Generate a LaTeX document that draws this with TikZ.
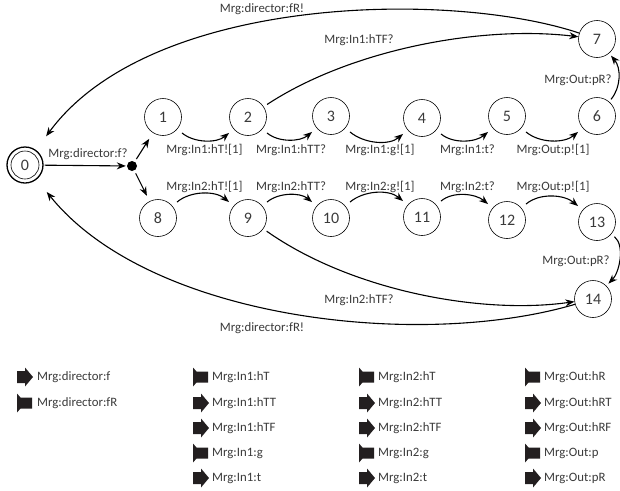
\documentclass[tikz,border=0pt]{standalone}
\usepackage{fontspec}
\setmainfont{Carlito}
\usetikzlibrary{arrows.meta}
\definecolor{txtgray}{HTML}{3A3A3A}
\definecolor{icon}{HTML}{231F20}
\begin{document}
\begin{tikzpicture}[x=1pt,y=-1pt,
  state/.style={circle,draw,line width=0.6pt,minimum size=37pt,inner sep=0pt,font=\fontsize{16}{16}\selectfont,text=txtgray},
  lbl/.style={font=\fontsize{12.8}{13}\selectfont,text=txtgray,inner sep=0pt},
  leg/.style={font=\fontsize{12.8}{13}\selectfont,text=txtgray,inner sep=0pt,anchor=west},
  edge/.style={line width=1.1pt,-{Stealth[length=9pt,width=7pt]}},
  sendicon/.pic={\fill[icon] (0,-6)--(8,-6)--(8,-9.5)--(16,0)--(8,9.5)--(8,6)--(0,6)--cycle;},
  recvicon/.pic={\fill[icon] (0,-9.5)--(3.5,-5.5)--(15,-5.5)--(15,5.5)--(3.5,5.5)--(0,9.5)--cycle;}
]
\useasboundingbox (0,0) rectangle (620,490);

% states
\node[state,line width=1.3pt,minimum size=36pt] (n0) at (25,165) {0};
\draw[line width=0.6pt] (n0.center) circle (14);
\node[circle,fill,inner sep=0pt,minimum size=10pt] (d) at (132,166) {};
\node[state] (n1) at (163,117) {1};
\node[state] (n2) at (248,117) {2};
\node[state] (n3) at (331,116) {3};
\node[state] (n4) at (422,118) {4};
\node[state] (n5) at (507,116) {5};
\node[state] (n6) at (597,116) {6};
\node[state] (n7) at (597,39) {7};
\node[state] (n8) at (158,218) {8};
\node[state] (n9) at (248,218) {9};
\node[state] (n10) at (331,218) {10};
\node[state] (n11) at (422,217) {11};
\node[state] (n12) at (507,220) {12};
\node[state] (n13) at (597,222) {13};
\node[state] (n14) at (593,299) {14};

% initial split
\draw[edge,shorten <=1pt,shorten >=1pt] (n0) -- (d);
\node[lbl] (l0) at (88,154) {Mrg:director:f?};
\draw[edge,shorten <=3pt,shorten >=7pt] (d) -- (n1);
\draw[edge,shorten <=3pt,shorten >=6pt] (d) -- (n8);

% top row
\foreach \a/\b in {n1/n2,n2/n3,n3/n4,n4/n5,n5/n6}
  \draw[edge,shorten <=6pt,shorten >=6pt] (\a) to[out=-40,in=-140] (\b);
\node[lbl] at (204.5,150) {Mrg:In1:hT![1]};
\node[lbl] at (291,150) {Mrg:In1:hTT?};
\node[lbl] at (380,150) {Mrg:In1:g![1]};
\node[lbl] at (467.5,150) {Mrg:In1:t?};
\node[lbl] at (553,150) {Mrg:Out:p![1]};

% bottom row
\foreach \a/\b in {n8/n9,n9/n10,n10/n11,n11/n12,n12/n13}
  \draw[edge,shorten <=6pt,shorten >=6pt] (\a) to[out=40,in=140] (\b);
\node[lbl] at (204.5,187) {Mrg:In2:hT![1]};
\node[lbl] at (291,187) {Mrg:In2:hTT?};
\node[lbl] at (380,187) {Mrg:In2:g![1]};
\node[lbl] at (467.5,187) {Mrg:In2:t?};
\node[lbl] at (553,187) {Mrg:Out:p![1]};

% right side
\draw[edge,shorten <=3pt,shorten >=3pt] (n6) to[out=50,in=-50] (n7);
\node[lbl] at (578,80) {Mrg:Out:pR?};
\draw[edge,shorten <=4pt,shorten >=3pt] (n13) to[out=-40,in=45,looseness=0.9] (n14);
\node[lbl] at (576,261) {Mrg:Out:pR?};

% long curves
\draw[edge,shorten <=4pt] (n2) .. controls (350,50) and (480,25) .. (n7);
\node[lbl] at (359,40) {Mrg:In1:hTF?};
\draw[edge,shorten >=17pt] (n7) .. controls (450,-10) and (150,-5) .. (n0);
\node[lbl] at (262,9) {Mrg:director:fR!};
\draw[edge,shorten <=4pt] (n9) .. controls (350,290) and (480,315) .. (n14);
\node[lbl] at (359,300) {Mrg:In2:hTF?};
\draw[edge,shorten >=16pt] (n14) .. controls (420,350) and (150,320) .. (n0);
\node[lbl] at (262,328) {Mrg:director:fR!};

% legend
\pic at (17,377) {sendicon};  \node[leg] at (37,377) {Mrg:director:f};
\pic at (17,403) {recvicon};  \node[leg] at (37,403) {Mrg:director:fR};

\pic at (193,377) {recvicon}; \node[leg] at (212,377) {Mrg:In1:hT};
\pic at (193,403) {sendicon}; \node[leg] at (212,403) {Mrg:In1:hTT};
\pic at (193,428) {sendicon}; \node[leg] at (212,428) {Mrg:In1:hTF};
\pic at (193,453) {recvicon}; \node[leg] at (212,453) {Mrg:In1:g};
\pic at (193,478) {sendicon}; \node[leg] at (212,478) {Mrg:In1:t};

\pic at (359,377) {recvicon}; \node[leg] at (378,377) {Mrg:In2:hT};
\pic at (359,403) {sendicon}; \node[leg] at (378,403) {Mrg:In2:hTT};
\pic at (359,428) {sendicon}; \node[leg] at (378,428) {Mrg:In2:hTF};
\pic at (359,453) {recvicon}; \node[leg] at (378,453) {Mrg:In2:g};
\pic at (359,478) {sendicon}; \node[leg] at (378,478) {Mrg:In2:t};

\pic at (525,377) {recvicon}; \node[leg] at (544,377) {Mrg:Out:hR};
\pic at (525,403) {sendicon}; \node[leg] at (544,403) {Mrg:Out:hRT};
\pic at (525,428) {sendicon}; \node[leg] at (544,428) {Mrg:Out:hRF};
\pic at (525,453) {recvicon}; \node[leg] at (544,453) {Mrg:Out:p};
\pic at (525,478) {sendicon}; \node[leg] at (544,478) {Mrg:Out:pR};
\end{tikzpicture}
\end{document}
